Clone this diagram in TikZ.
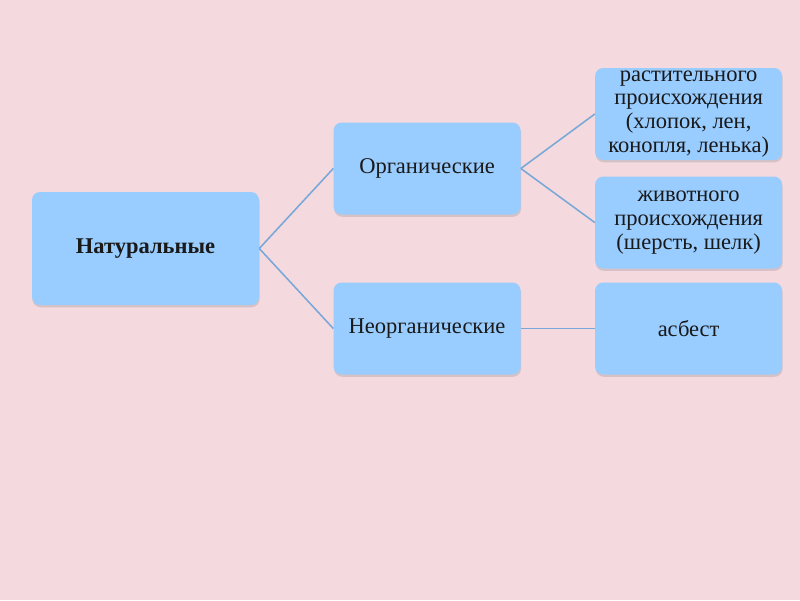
\documentclass[tikz,border=0pt]{standalone}
\usepackage{fontspec}
\setmainfont{Liberation Serif}
\usetikzlibrary{positioning,shadows}

\definecolor{bgpink}{HTML}{F4D9DE}
\definecolor{boxblue}{HTML}{99CCFF}
\definecolor{linkblue}{HTML}{78A8D8}

\begin{document}
\begin{tikzpicture}[
node distance=1.85cm,
box/.style={
    fill=boxblue,
    rounded corners=0.2cm,
    minimum width=4.675cm,
    minimum height=2.3cm,
    inner xsep=3pt,
    inner ysep=0pt,
    align=center,
    text=black!90,
    font=\fontsize{16}{17}\selectfont,
    drop shadow={opacity=0.25, shadow xshift=0.4pt, shadow yshift=-1.6pt}
},
link/.style={draw=linkblue, line width=1.1pt}
]

% page and background
\fill[bgpink] (0,0) rectangle (20,-15);
\useasboundingbox (0,0) rectangle (20,-15);

\node[box, minimum width=5.675cm, minimum height=2.825cm, font=\fontsize{16}{17}\selectfont\bfseries]
    (natural) at (3.6375,-6.2125) {Натуральные};

\node (organic) [box, right=of natural, yshift=2cm] {Органические};
\node (inorganic) [box, right=of natural, yshift=-2cm] {Неорганические};

\node (plant) [box, right=of organic, yshift=1.3625cm]
{растительного\\происхождения\\(хлопок, лен,\\конопля, ленька)};

\node (animal) [box, below=0.4cm of plant]
{животного\\происхождения\\(шерсть, шелк)};

\node (asbestos) [box, right=of inorganic] {асбест};

\draw[link] (natural.east)--(organic.west);
\draw[link] (natural.east)--(inorganic.west);
\draw[link] (organic.east)--(plant.west);
\draw[link] (organic.east)--(animal.west);
\draw[link] (inorganic)--(asbestos);

\end{tikzpicture}
\end{document}
